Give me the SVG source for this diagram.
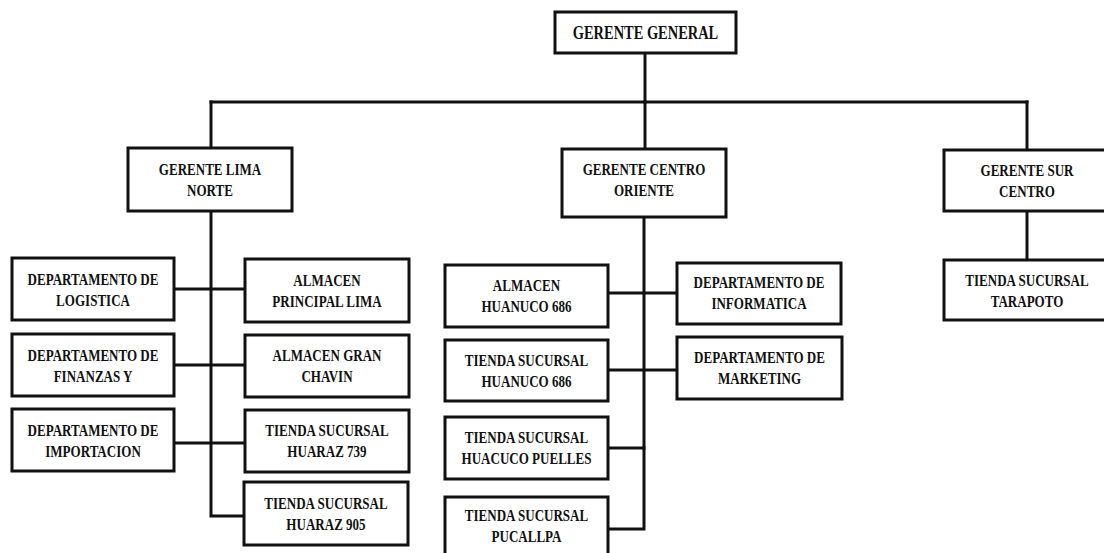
<svg xmlns="http://www.w3.org/2000/svg" width="1104" height="553" viewBox="0 0 1104 553">
  <style>
    .box { fill: #ffffff; stroke: #111111; stroke-width: 3; }
    .link { fill: none; stroke: #111111; stroke-width: 3; stroke-linejoin: miter; stroke-linecap: square; }
    text { font-family: "Liberation Serif", "Times New Roman", serif; font-weight: bold; font-size: 16.5px; fill: #111111; text-anchor: middle; transform: scaleX(0.79); transform-box: fill-box; transform-origin: center; }
    .top { font-size: 18.5px; transform: scaleX(0.78); }
  </style>
  <rect width="1104" height="553" fill="#ffffff"/>

  <!-- connectors -->
  <g id="connectors">
    <path class="link" d="M645,53 V102"/>
    <path class="link" d="M211,102 H1027"/>
    <path class="link" d="M211,102 V148"/>
    <path class="link" d="M645,102 V149"/>
    <path class="link" d="M1027,102 V150"/>
    <!-- Lima Norte branch -->
    <path class="link" d="M211,211 V516 H244"/>
    <path class="link" d="M174,289 H245"/>
    <path class="link" d="M174,365 H245"/>
    <path class="link" d="M174,443 H245"/>
    <!-- Centro Oriente branch -->
    <path class="link" d="M644,217 V529 H608"/>
    <path class="link" d="M608,293 H677"/>
    <path class="link" d="M608,370 H677"/>
    <path class="link" d="M608,448 H644"/>
    <!-- Sur Centro branch -->
    <path class="link" d="M1027,211 V260"/>
  </g>

  <g id="gerente-general">
    <rect class="box" x="555" y="12" width="181" height="41"/>
    <text class="top" x="645.5" y="39">GERENTE GENERAL</text>
  </g>

  <g id="gerente-lima-norte">
    <rect class="box" x="128" y="148" width="164" height="63"/>
    <text x="210" y="175">GERENTE LIMA</text>
    <text x="210" y="196">NORTE</text>
  </g>

  <g id="gerente-centro-oriente">
    <rect class="box" x="562" y="149" width="164" height="68"/>
    <text x="644" y="175">GERENTE CENTRO</text>
    <text x="644" y="196">ORIENTE</text>
  </g>

  <g id="gerente-sur-centro">
    <rect class="box" x="944" y="150" width="166" height="61"/>
    <text x="1027" y="176">GERENTE SUR</text>
    <text x="1027" y="197">CENTRO</text>
  </g>

  <g id="tienda-tarapoto">
    <rect class="box" x="944" y="260" width="166" height="60"/>
    <text x="1027" y="286">TIENDA SUCURSAL</text>
    <text x="1027" y="307">TARAPOTO</text>
  </g>

  <g id="dep-logistica">
    <rect class="box" x="12" y="258" width="162" height="62"/>
    <text x="93" y="285">DEPARTAMENTO DE</text>
    <text x="93" y="306">LOGISTICA</text>
  </g>

  <g id="dep-finanzas">
    <rect class="box" x="12" y="334" width="162" height="62"/>
    <text x="93" y="361">DEPARTAMENTO DE</text>
    <text x="93" y="382">FINANZAS Y</text>
  </g>

  <g id="dep-importacion">
    <rect class="box" x="12" y="409" width="162" height="62"/>
    <text x="93" y="436">DEPARTAMENTO DE</text>
    <text x="93" y="457">IMPORTACION</text>
  </g>

  <g id="almacen-principal-lima">
    <rect class="box" x="245" y="259" width="164" height="63"/>
    <text x="327" y="286">ALMACEN</text>
    <text x="327" y="307">PRINCIPAL LIMA</text>
  </g>

  <g id="almacen-gran-chavin">
    <rect class="box" x="245" y="335" width="164" height="62"/>
    <text x="327" y="361">ALMACEN GRAN</text>
    <text x="327" y="382">CHAVIN</text>
  </g>

  <g id="tienda-huaraz-739">
    <rect class="box" x="245" y="410" width="164" height="62"/>
    <text x="327" y="436">TIENDA SUCURSAL</text>
    <text x="327" y="457">HUARAZ 739</text>
  </g>

  <g id="tienda-huaraz-905">
    <rect class="box" x="244" y="482" width="164" height="63"/>
    <text x="326" y="509">TIENDA SUCURSAL</text>
    <text x="326" y="530">HUARAZ 905</text>
  </g>

  <g id="almacen-huanuco-686">
    <rect class="box" x="445" y="265" width="163" height="62"/>
    <text x="526.5" y="291">ALMACEN</text>
    <text x="526.5" y="312">HUANUCO 686</text>
  </g>

  <g id="tienda-huanuco-686">
    <rect class="box" x="445" y="340" width="163" height="61"/>
    <text x="526.5" y="366">TIENDA SUCURSAL</text>
    <text x="526.5" y="387">HUANUCO 686</text>
  </g>

  <g id="tienda-huacuco-puelles">
    <rect class="box" x="445" y="417" width="163" height="62"/>
    <text x="526.5" y="443">TIENDA SUCURSAL</text>
    <text x="526.5" y="464">HUACUCO PUELLES</text>
  </g>

  <g id="tienda-pucallpa">
    <rect class="box" x="445" y="497" width="163" height="64"/>
    <text x="526.5" y="521">TIENDA SUCURSAL</text>
    <text x="526.5" y="542">PUCALLPA</text>
  </g>

  <g id="dep-informatica">
    <rect class="box" x="677" y="263" width="164" height="61"/>
    <text x="759" y="288">DEPARTAMENTO DE</text>
    <text x="759" y="309">INFORMATICA</text>
  </g>

  <g id="dep-marketing">
    <rect class="box" x="677" y="337" width="165" height="62"/>
    <text x="759.5" y="363">DEPARTAMENTO DE</text>
    <text x="759.5" y="384">MARKETING</text>
  </g>
</svg>
